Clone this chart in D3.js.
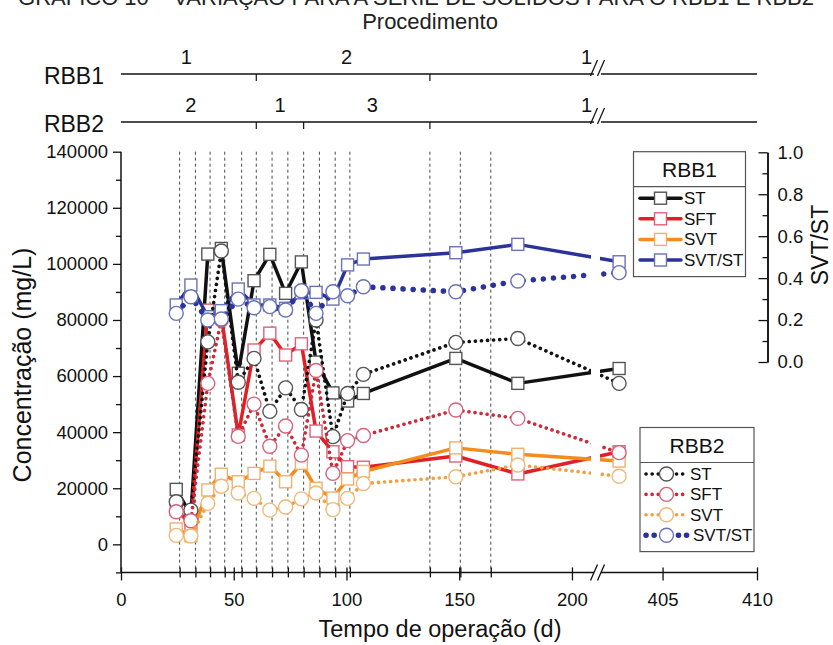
<!DOCTYPE html>
<html>
<head>
<meta charset="utf-8">
<script src="https://cdn.jsdelivr.net/npm/d3@7"></script>
<style>
  html, body { margin: 0; padding: 0; background: #fff; }
  svg { display: block; font-family: "Liberation Sans", Arial, sans-serif; }
</style>
</head>
<body>
<svg id="chart" width="833" height="645"></svg>
<script>
// Operation days of each sampling
const days = [24.5, 31, 38.5, 44.5, 52, 59, 66, 73, 80, 86.5, 94, 100.5, 107.5, 148.5, 176, 402.7];

// RBB1 (solid lines, squares) — mg/L and ratio
const rbb1ST  = [19600, 10500, 103500, 105500, 61000, 94000, 103400, 89500, 100700, 65000, 54000, 51100, 53800, 66300, 57400, 62700];
const rbb1SFT = [12500, 7000, 83500, 81500, 39000, 69300, 75300, 67500, 71500, 40400, 33000, 27700, 27500, 31500, 25100, 33000];
const rbb1SVT = [5500, 3000, 19400, 25000, 22300, 25300, 27900, 22300, 28900, 20000, 16500, 23300, 26000, 34400, 32100, 29700];
const rbb1Ratio = [0.272, 0.367, 0.216, 0.245, 0.348, 0.272, 0.272, 0.256, 0.330, 0.332, 0.300, 0.463, 0.491, 0.521, 0.561, 0.478];

// RBB2 (dotted lines, circles)
const rbb2ST  = [15200, 12200, 72200, 104600, 57800, 66300, 47400, 55800, 48100, 80000, 38400, 53800, 60600, 72000, 73400, 57400];
const rbb2SFT = [11600, 8400, 57400, 80000, 38500, 50000, 35000, 42200, 31800, 62000, 25300, 37000, 38800, 47900, 44900, 32700];
const rbb2SVT = [3200, 3000, 14600, 20700, 18300, 16400, 12200, 13300, 16200, 18300, 12400, 16400, 21700, 24100, 28300, 24300];
const rbb2Ratio = [0.232, 0.311, 0.200, 0.205, 0.300, 0.259, 0.264, 0.248, 0.340, 0.232, 0.335, 0.316, 0.359, 0.335, 0.386, 0.426];

// Days marked by vertical dashed lines
const markDays = [26, 33, 39.5, 46, 53.5, 60, 67, 74, 81, 88, 95, 101.5, 137, 150.5, 164];

// Axis ticks
const xTicks = [0, 50, 100, 150, 200, 405, 410];
const yTicks = [0, 20000, 40000, 60000, 80000, 100000, 120000, 140000];
const yMinor = [-10000, 10000, 30000, 50000, 70000, 90000, 110000, 130000];
const rTicks = [0, 0.2, 0.4, 0.6, 0.8, 1.0];
const rMinor = [0.1, 0.3, 0.5, 0.7, 0.9];

// Procedure timeline
const procRBB1Changes = [60, 137];
const procRBB1Labels = ["1", "2", "1"];
const procRBB1LabelDays = [29, 100, 206.5];
const procRBB2Changes = [60, 81, 137];
const procRBB2Labels = ["2", "1", "3", "1"];
const procRBB2LabelDays = [31, 70.5, 111.5, 206.5];

const legendLabels = ["ST", "SFT", "SVT", "SVT/ST"];

const svg = d3.select("#chart");
const FONT = '"Liberation Sans", Arial, sans-serif';

// Scales: broken time axis (0–210 | 401.9–410)
const x = d3.scaleLinear().domain([0, 210, 401.9, 410]).range([121, 594.5, 604, 757]);
const y = d3.scaleLinear().domain([-10000, 140000]).range([572.4, 151.7]);
const yR = d3.scaleLinear().domain([0, 1]).range([362, 152.3]);
const breakX = [594, 601];

// Heading, cut off by the top edge
svg.append("text").attr("x", 416).attr("y", 5).attr("text-anchor", "middle")
  .attr("font-size", 22).attr("fill", "#222")
  .text("GRÁFICO 10 – VARIAÇÃO PARA A SÉRIE DE SÓLIDOS PARA O RBB1 E RBB2");

svg.append("text").attr("x", 430).attr("y", 29).attr("text-anchor", "middle")
  .attr("font-size", 22).attr("fill", "#222").text("Procedimento");

// Procedure timelines
function slashes(g, yc) {
  breakX.forEach(bx => {
    g.append("line").attr("x1", bx - 3.5).attr("y1", yc + 8).attr("x2", bx + 3.5).attr("y2", yc - 8)
      .attr("stroke", "#111").attr("stroke-width", 1.3);
  });
}
function procLine(name, yc, changes, labels, labelDays) {
  const g = svg.append("g");
  g.append("text").attr("x", 104).attr("y", yc + 10).attr("text-anchor", "end")
    .attr("font-size", 23).attr("fill", "#111").text(name);
  g.append("line").attr("x1", x(0)).attr("x2", breakX[0]).attr("y1", yc).attr("y2", yc)
    .attr("stroke", "#111").attr("stroke-width", 1.5);
  g.append("line").attr("x1", breakX[1]).attr("x2", x(410)).attr("y1", yc).attr("y2", yc)
    .attr("stroke", "#111").attr("stroke-width", 1.5);
  slashes(g, yc - 6);
  changes.forEach(d => {
    g.append("line").attr("x1", x(d)).attr("x2", x(d)).attr("y1", yc).attr("y2", yc + 7)
      .attr("stroke", "#111").attr("stroke-width", 1.2);
  });
  labels.forEach((t, i) => {
    g.append("text").attr("x", x(labelDays[i])).attr("y", yc - 10).attr("text-anchor", "middle")
      .attr("font-size", 20).attr("fill", "#111").text(t);
  });
}
procLine("RBB1", 74, procRBB1Changes, procRBB1Labels, procRBB1LabelDays);
procLine("RBB2", 122, procRBB2Changes, procRBB2Labels, procRBB2LabelDays);

// Vertical dashed event lines
svg.append("g").selectAll("line").data(markDays).join("line")
  .attr("x1", d => x(d)).attr("x2", d => x(d))
  .attr("y1", y(140000)).attr("y2", y(-10000))
  .attr("stroke", "#333").attr("stroke-width", 0.9).attr("stroke-dasharray", "3,3");

// Left axis
const gL = svg.append("g").attr("transform", `translate(${x(0)},0)`);
gL.call(d3.axisLeft(y).tickValues(yTicks).tickSize(8).tickSizeOuter(0).tickPadding(5).tickFormat(d3.format("d")));
gL.append("g").call(d3.axisLeft(y).tickValues(yMinor).tickSize(5).tickFormat(""));
gL.selectAll("g > .domain").remove();
gL.append("line").attr("y1", y(140000)).attr("y2", y(-10000)).attr("stroke", "#111").attr("stroke-width", 1.5);
gL.selectAll(".tick line").attr("stroke", "#111").attr("stroke-width", 1.3);
gL.selectAll(".tick text").attr("font-size", 18.5).attr("font-family", FONT).attr("fill", "#111");

// Bottom axis (broken)
const gB = svg.append("g").attr("transform", `translate(0,${y(-10000)})`);
gB.call(d3.axisBottom(x).tickValues(xTicks).tickSize(8).tickSizeOuter(0).tickPadding(12).tickFormat(d3.format("d")));
gB.append("g").call(d3.axisBottom(x).tickValues(markDays).tickSize(5).tickFormat(""));
gB.selectAll(".domain").remove();
gB.selectAll(".tick line").attr("y1", -5).attr("stroke", "#111").attr("stroke-width", 1.3);
gB.selectAll(".tick text").attr("font-size", 18.5).attr("font-family", FONT).attr("fill", "#111");
gB.append("line").attr("x1", x(0)).attr("x2", breakX[0]).attr("stroke", "#111").attr("stroke-width", 1.5);
gB.append("line").attr("x1", breakX[1]).attr("x2", x(410)).attr("stroke", "#111").attr("stroke-width", 1.5);
slashes(gB, 0);

// Right axis (ratio)
const gR = svg.append("g").attr("transform", "translate(767.5,0)");
gR.call(d3.axisRight(yR).tickValues(rTicks).tickSizeInner(-9).tickSizeOuter(0).tickPadding(10).tickFormat(d3.format(".1f")));
gR.append("g").call(d3.axisRight(yR).tickValues(rMinor).tickSizeInner(-5).tickSizeOuter(0).tickFormat(""));
gR.selectAll(".domain").attr("stroke", "#111").attr("stroke-width", 1.5);
gR.selectAll(".tick line").attr("stroke", "#111").attr("stroke-width", 1.3);
gR.selectAll(".tick text").attr("font-size", 18.5).attr("font-family", FONT).attr("fill", "#111");

// Axis titles
svg.append("text").attr("x", 440).attr("y", 637).attr("text-anchor", "middle")
  .attr("font-size", 23.5).attr("fill", "#111").text("Tempo de operação (d)");
svg.append("text").attr("transform", "translate(31,365) rotate(-90)").attr("text-anchor", "middle")
  .attr("font-size", 25).attr("fill", "#111").text("Concentração (mg/L)");
svg.append("text").attr("transform", "translate(828,245) rotate(-90)").attr("text-anchor", "middle")
  .attr("font-size", 23).attr("fill", "#111").text("SVT/ST");

// Clip that leaves a gap in the lines at the axis break
const defs = svg.append("defs");
const cp = defs.append("clipPath").attr("id", "brk");
cp.append("rect").attr("x", 0).attr("y", 0).attr("width", 591).attr("height", 645);
cp.append("rect").attr("x", 600).attr("y", 0).attr("width", 233).attr("height", 645);

const series = [
  { vals: rbb1ST,    sc: y,  color: "#111111", mk: "#555555", dotted: false },
  { vals: rbb1SFT,   sc: y,  color: "#e02024", mk: "#e0607a", dotted: false },
  { vals: rbb1SVT,   sc: y,  color: "#f28c1c", mk: "#f0b070", dotted: false },
  { vals: rbb1Ratio, sc: yR, color: "#2b3399", mk: "#6a72b8", dotted: false },
  { vals: rbb2ST,    sc: y,  color: "#111111", mk: "#555555", dotted: true },
  { vals: rbb2SFT,   sc: y,  color: "#cc2a3a", mk: "#d9607a", dotted: true },
  { vals: rbb2SVT,   sc: y,  color: "#f0a040", mk: "#f0b878", dotted: true },
  { vals: rbb2Ratio, sc: yR, color: "#2b3399", mk: "#6a72b8", dotted: true, big: true }
];

function styleLine(sel, s) {
  sel.attr("fill", "none").attr("stroke", s.color).attr("stroke-linecap", "round");
  if (s.dotted) {
    sel.attr("stroke-width", s.big ? 5.5 : 3.6).attr("stroke-dasharray", s.big ? "0.1,10" : "0.1,6");
  } else {
    sel.attr("stroke-width", 3.5).attr("stroke-linejoin", "round");
  }
}
function drawMarker(g, s, cx, cy) {
  if (s.dotted) {
    g.append("circle").attr("cx", cx).attr("cy", cy).attr("r", 7)
      .attr("fill", "#fff").attr("stroke", s.mk).attr("stroke-width", 1.4);
  } else {
    g.append("rect").attr("x", cx - 6).attr("y", cy - 6).attr("width", 12).attr("height", 12)
      .attr("fill", "#fff").attr("stroke", s.mk).attr("stroke-width", 1.4);
  }
}

series.forEach(s => {
  const pts = days.map((d, i) => ({ d, v: s.vals[i] }));
  const line = d3.line().x(p => x(p.d)).y(p => s.sc(p.v));
  const g = svg.append("g");
  styleLine(g.append("path").attr("clip-path", "url(#brk)").attr("d", line(pts)), s);
  pts.forEach(p => drawMarker(g, s, x(p.d), s.sc(p.v)));
});

// Legends
function legend(title, x0, y0, w, headH, rowH, rowsTop, group, sampleX0, sampleX1, textX) {
  const g = svg.append("g");
  const h = headH + rowsTop + rowH * 4 - 4;
  g.append("rect").attr("x", x0).attr("y", y0).attr("width", w).attr("height", h)
    .attr("fill", "#fff").attr("stroke", "#555").attr("stroke-width", 1.2);
  g.append("line").attr("x1", x0).attr("x2", x0 + w).attr("y1", y0 + headH).attr("y2", y0 + headH)
    .attr("stroke", "#555").attr("stroke-width", 1.2);
  g.append("text").attr("x", x0 + w / 2).attr("y", y0 + headH / 2 + 7.5).attr("text-anchor", "middle")
    .attr("font-size", 21).attr("fill", "#111").text(title);
  group.forEach((s, i) => {
    const yc = y0 + headH + rowsTop + i * rowH;
    const ln = g.append("line").attr("x1", sampleX0).attr("x2", sampleX1).attr("y1", yc).attr("y2", yc);
    styleLine(ln, s);
    if (s.dotted && s.big) ln.attr("stroke-dasharray", "0.1,8");
    drawMarker(g, s, (sampleX0 + sampleX1) / 2, yc);
    g.append("text").attr("x", textX + (s.big ? 3 : 0)).attr("y", yc + 6).attr("font-size", 17)
      .attr("fill", "#111").text(legendLabels[i]);
  });
}
legend("RBB1", 633.5, 151.7, 112, 35, 20.6, 11.5, series.slice(0, 4), 640, 681, 684);
legend("RBB2", 640, 427.5, 114, 35, 20.4, 11.5, series.slice(4, 8), 646, 687, 690);
</script>
</body>
</html>
